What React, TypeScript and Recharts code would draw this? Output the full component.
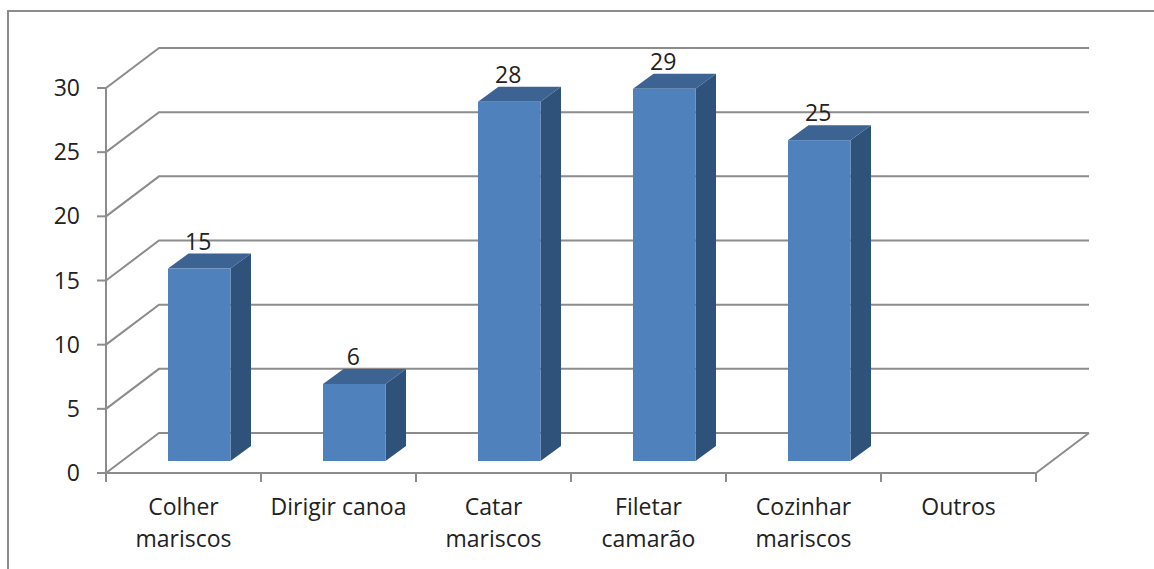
import React from 'react';
import { BarChart, Bar, CartesianGrid, XAxis, YAxis } from 'recharts';

const categories = ['Colher\nmariscos', 'Dirigir canoa', 'Catar\nmariscos', 'Filetar\ncamarão', 'Cozinhar\nmariscos', 'Outros'];
const values = [15, 6, 28, 29, 25, null];
const yTicks = [0, 5, 10, 15, 20, 25, 30];

const data = categories.map((name, i) => ({ name, value: values[i] }));

const FONT = '"Open Sans", sans-serif';
const FONT_SIZE = 23;
const LINE = '#8c8c8c';
const TEXT = '#222222';

// depth of the back wall, relative to the front plane
const WALL_DX = 53;
const WALL_DY = -40;
// bars stand part way into the floor
const BAR_DX = 16;
const BAR_DY = -12;
const SIDE_DX = 20.5;
const SIDE_DY = -15;

const GridLine = (props: any) => {
  const { x1, x2, y1, y, height } = props;
  const isFloor = Math.abs(y1 - (y + height)) < 1;
  const backY = y1 + WALL_DY;
  return (
    <g fill="none" stroke={LINE} strokeWidth={2}>
      <path d={`M${x1},${y1} L${x1 + WALL_DX},${backY} L${x2 + WALL_DX},${backY}`} />
      {isFloor && <path d={`M${x2},${y1} L${x2 + WALL_DX},${backY}`} />}
    </g>
  );
};

const Bar3D = (props: any) => {
  const { x, y, width, height } = props;
  if (!height) return null;
  const left = x + BAR_DX;
  const right = left + width;
  const top = y + BAR_DY;
  const bottom = top + height;
  return (
    <g>
      <path
        d={`M${right},${top} L${right + SIDE_DX},${top + SIDE_DY} L${right + SIDE_DX},${bottom + SIDE_DY} L${right},${bottom} Z`}
        fill="#2f527b"
      />
      <path
        d={`M${left},${top} L${left + SIDE_DX},${top + SIDE_DY} L${right + SIDE_DX},${top + SIDE_DY} L${right},${top} Z`}
        fill="#3c6392"
      />
      <rect x={left} y={top} width={width} height={height} fill="#4f81bd" />
    </g>
  );
};

const BarValue = (props: any) => {
  const { x, y, width, value } = props;
  if (value == null) return null;
  return (
    <text x={x + width / 2 + BAR_DX - 1} y={y + BAR_DY - 19} textAnchor="middle" fontFamily={FONT} fontSize={FONT_SIZE} fill={TEXT}>
      {value}
    </text>
  );
};

// tick marks sit between the categories, so they are drawn here and not by the axis
const CategoryTick = (props: any) => {
  const { x, y, payload, width, visibleTicksCount, index } = props;
  const band = width / visibleTicksCount;
  const axisY = y - 32;
  const lines = String(payload.value).split('\n');
  return (
    <g>
      <line x1={x - band / 2} x2={x - band / 2} y1={axisY} y2={axisY + 9} stroke={LINE} strokeWidth={2} />
      {index === visibleTicksCount - 1 && (
        <line x1={x + band / 2} x2={x + band / 2} y1={axisY} y2={axisY + 9} stroke={LINE} strokeWidth={2} />
      )}
      <text textAnchor="middle" fontFamily={FONT} fontSize={FONT_SIZE} fill={TEXT}>
        {lines.map((line, i) => (
          <tspan key={line} x={x} y={y + 10 + i * 32}>
            {line}
          </tspan>
        ))}
      </text>
    </g>
  );
};

const App = () => (
  <div style={{ position: 'absolute', left: 0, top: 0, width: 1154, height: 569, background: '#fff', overflow: 'hidden' }}>
    <div
      style={{
        position: 'absolute',
        left: 7,
        top: 10,
        width: 1160,
        height: 580,
        border: '2px solid #8c8c8c',
        boxSizing: 'border-box',
      }}
    />
    <div style={{ position: 'absolute', left: 0, top: 0 }}>
      <BarChart
        width={1154}
        height={569}
        data={data}
        barSize={62.5}
        margin={{ top: 88, right: 118, bottom: 36, left: 46 }}
      >
        <CartesianGrid horizontal={GridLine} vertical={false} />
        <XAxis
          dataKey="name"
          height={60}
          interval={0}
          tickLine={false}
          axisLine={{ stroke: LINE, strokeWidth: 2 }}
          tick={CategoryTick}
          tickMargin={0}
          tickSize={32}
        />
        <YAxis
          width={60}
          domain={[0, 30]}
          ticks={yTicks}
          interval={0}
          tickSize={9}
          tickMargin={17}
          axisLine={{ stroke: LINE, strokeWidth: 2 }}
          tickLine={{ stroke: LINE, strokeWidth: 2 }}
          tick={{ fontFamily: FONT, fontSize: FONT_SIZE, fill: TEXT }}
        />
        <Bar dataKey="value" isAnimationActive={false} shape={Bar3D} label={BarValue} />
      </BarChart>
    </div>
  </div>
);

export default App;
